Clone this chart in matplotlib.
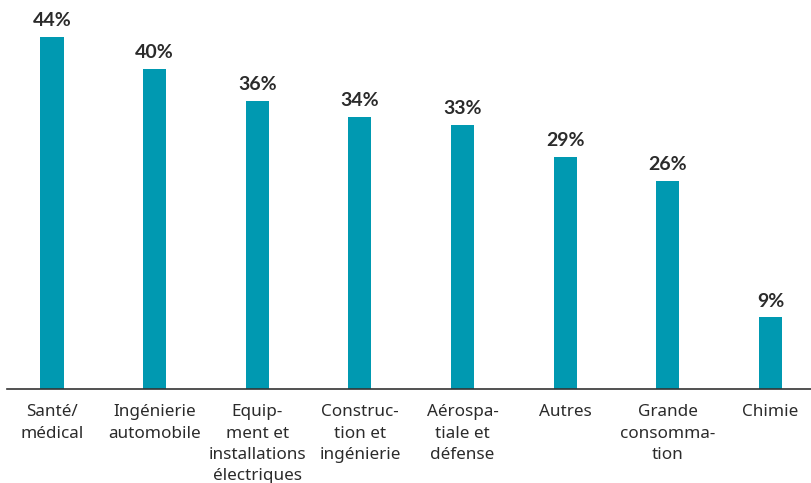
import matplotlib.pyplot as plt

# sectors and share of respondents (%)
categories = ["Santé/\nmédical", "Ingénierie\nautomobile", "Equip-\nment et\ninstallations\nélectriques",
              "Construc-\ntion et\ningénierie", "Aérospa-\ntiale et\ndéfense", "Autres",
              "Grande\nconsomma-\ntion", "Chimie"]
values = [44, 40, 36, 34, 33, 29, 26, 9]

bar_color = "#0099b1"
text_color = "#2b2b2b"

fig = plt.figure(figsize=(8.12, 4.83), dpi=100)
ax = fig.add_axes([7 / 812, 94 / 483, 805 / 812, 389 / 483])

x = list(range(len(values)))
ax.bar(x, values, width=0.225, color=bar_color, zorder=2)

ax.set_xlim(-0.438, 7.404)
ax.set_ylim(0, 48.6)

# value labels above each bar
for xi, v in zip(x, values):
    ax.annotate(f"{v}%", (xi, v), xytext=(0, 7.5), textcoords="offset points",
                ha="center", va="baseline", fontsize=14, fontweight="bold",
                family="Lato", color=text_color)

# category names below the axis line
for xi, name in zip(x, categories):
    ax.annotate(name, (xi, 0), xytext=(0, -11), textcoords="offset points",
                ha="center", va="top", fontsize=12.3, family="Noto Sans",
                color=text_color, linespacing=1.45, annotation_clip=False)

for side in ["top", "right", "left"]:
    ax.spines[side].set_visible(False)
ax.spines["bottom"].set_color("#333333")
ax.spines["bottom"].set_linewidth(1.2)
ax.set_xticks([])
ax.set_yticks([])

fig.savefig("out.png", dpi=100)
